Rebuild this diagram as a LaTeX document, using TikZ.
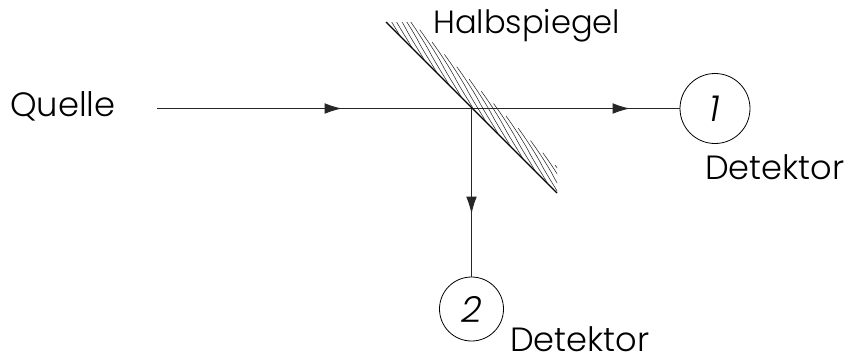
\documentclass[tikz,border=0pt]{standalone}
\usepackage{fontspec}
\setmainfont{Poppins Light}
\usetikzlibrary{arrows.meta}
\tikzset{
  px/.style={x=0.75pt,y=-0.75pt},
  beam/.style={line width=0.85pt,draw=black!85},
  beamtip/.style={beam,-{Latex[length=13pt,width=8pt]}},
  det/.style={circle,draw,line width=0.6pt,inner sep=0pt,font=\itshape\fontsize{27}{30}\selectfont},
  lab/.style={inner sep=0pt,anchor=base west},
  hatchl/.style={line width=0.4pt,draw=black!85}
}
\begin{document}
\begin{tikzpicture}[px]
\useasboundingbox (0,0) rectangle (846,358);
\node[det,minimum size=52.5pt] (d1) at (715,108.5) {1};
\node[det,minimum size=48pt] (d2) at (471.5,309) {2};
\coordinate (src) at (157,108.5);
\coordinate (c) at (471.5,108.5);
\coordinate (m1) at (386,22);
\coordinate (m2) at (557,193);
\draw[beam] (src) -- (d1.west);
\draw[beam] (c) -- (d2.north);
\draw[beamtip] (src) -- (342,108.5);
\draw[beamtip] (c) -- (630,108.5);
\draw[beamtip] (c) -- (471.5,214);
\draw[line width=0.95pt] (m1) -- (m2);
\begin{scope}
\clip (386,22) rectangle (557,193);
\foreach \t in {2,14.3,...,215}{
  \draw[hatchl] (386+\t,22+\t) .. controls +(-7,-12) and +(5,10) .. ++(-20,-34)
     .. controls +(-6,-11) and +(6,8) .. ++(-22,-34);
}
\end{scope}
\node[lab,font=\fontsize{25.3}{28}\selectfont] (q) at (10,116) {Quelle};
\node[lab,font=\fontsize{24.1}{28}\selectfont] (h) at (433,33) {Halbspiegel};
\node[lab,font=\fontsize{25.2}{28}\selectfont] (t1) at (705,179) {Detektor};
\node[lab,font=\fontsize{25.2}{28}\selectfont] (t2) at (510,351) {Detektor};
\end{tikzpicture}
\end{document}
